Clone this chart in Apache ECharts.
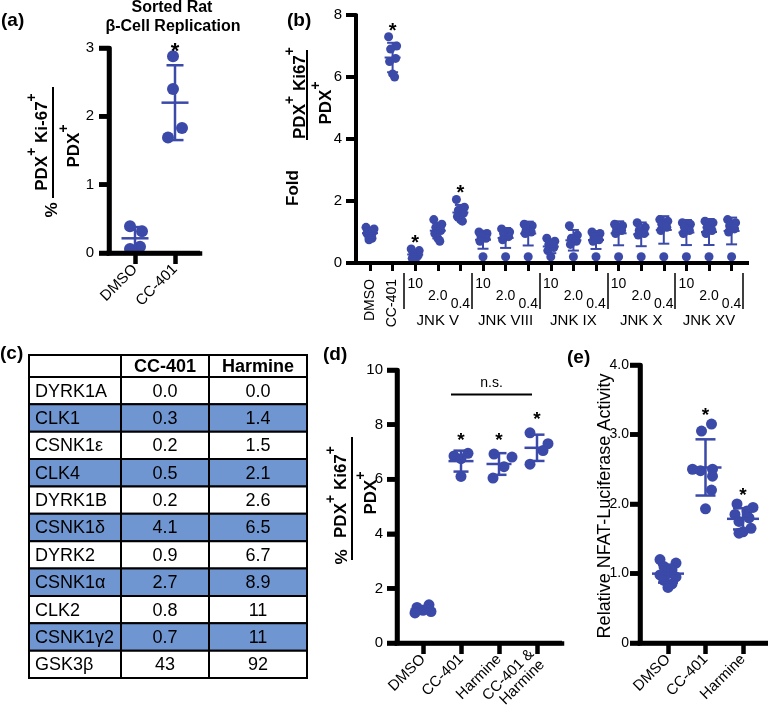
<!DOCTYPE html>
<html><head><meta charset="utf-8">
<script src="https://cdn.jsdelivr.net/npm/echarts@6.0.0/dist/echarts.min.js"></script>
<style>html,body{margin:0;padding:0;background:#fff}#c{width:768px;height:720px}</style>
</head><body><div id="c"></div>
<script>
// ================= DATA =================
// (a) Sorted rat beta-cell replication (% PDX+Ki-67+/PDX+)
const aCats = ['DMSO', 'CC-401'];
const aDMSO = [0.39, 0.32, 0.06, 0.09];
const aCC401 = [2.88, 2.40, 1.83, 1.69];

// (b) Fold PDX+Ki67+/PDX+
const bControls = ['DMSO', 'CC-401'];
const bInhibitors = ['JNK V', 'JNK VIII', 'JNK IX', 'JNK X', 'JNK XV'];
const bConcs = ['10', '2.0', '0.4'];
const bDMSO = [1.15, 1.1, 1.05, 1.0, 0.95, 0.9, 0.8, 0.75];
const bCC401 = [7.3, 7.0, 6.9, 6.6, 6.5, 6.1, 6.0];
const bJNKV = [[0.45, 0.4, 0.3, 0.25, 0.15, 0.1], [1.4, 1.25, 1.15, 1.05, 0.95, 0.8, 0.7], [2.05, 1.8, 1.7, 1.6, 1.5, 1.4, 1.35]];
const bJNKVIII = [[1.0, 0.95, 0.85, 0.8, 0.7, 0.2], [1.1, 1.0, 0.95, 0.85, 0.75, 0.2], [1.25, 1.2, 1.1, 1.0, 0.95, 0.2]];
const bJNKIX = [[0.8, 0.7, 0.6, 0.5, 0.4, 0.2], [1.2, 0.9, 0.8, 0.7, 0.6, 0.2], [1.0, 0.95, 0.85, 0.75, 0.7, 0.2]];
const bJNKX = [[1.25, 1.2, 1.1, 1.05, 0.95, 0.2], [1.3, 1.15, 1.05, 0.95, 0.9, 0.2], [1.4, 1.35, 1.25, 1.15, 1.05, 0.2]];
const bJNKXV = [[1.3, 1.25, 1.15, 1.05, 0.95, 0.2], [1.35, 1.3, 1.15, 1.05, 0.95, 0.2], [1.4, 1.3, 1.2, 1.1, 1.0, 0.2]];
const bStarred = ['CC-401', 'JNK V 10', 'JNK V 0.4'];

// (c) table
const tableHeader = ['', 'CC-401', 'Harmine'];
const kinases = ['DYRK1A', 'CLK1', 'CSNK1\u03b5', 'CLK4', 'DYRK1B', 'CSNK1\u03b4', 'DYRK2', 'CSNK1\u03b1', 'CLK2', 'CSNK1\u03b32', 'GSK3\u03b2'];
const cc401Vals = ['0.0', '0.3', '0.2', '0.5', '0.2', '4.1', '0.9', '2.7', '0.8', '0.7', '43'];
const harmineVals = ['0.0', '1.4', '1.5', '2.1', '2.6', '6.5', '6.7', '8.9', '11', '11', '92'];

// (d) % PDX+Ki67+/PDX+
const dCats = ['DMSO', 'CC-401', 'Harmine', 'CC-401 &\nHarmine'];
const dDMSO = [1.4, 1.3, 1.2, 1.1, 1.15];
const dCC401 = [6.95, 6.85, 6.75, 6.1];
const dHarmine = [6.92, 6.81, 6.46, 6.04];
const dCombo = [7.7, 7.3, 7.05, 6.55];

// (e) Relative NFAT-luciferase activity
const eCats = ['DMSO', 'CC-401', 'Harmine'];
const eDMSO = [1.2, 1.15, 1.1, 1.05, 1.0, 0.98, 0.95, 0.9, 0.85, 0.8];
const eCC401 = [3.15, 3.05, 2.5, 2.48, 2.5, 2.4, 2.2, 1.93];
const eHarmine = [2.0, 1.95, 1.9, 1.85, 1.8, 1.75, 1.65, 1.6, 1.58];

// ================= STYLE =================
const BLUE = '#3b49a8';
const TBLUE = '#7096d1';
const FONT = '"Liberation Sans", Arial, Helvetica, sans-serif';
// horizontal jitter of dots (px), style only
const aJit = [[-5, 7, -5, 5], [-2, -2, 7, -7]];
const bJitPattern = [-4, 4, -2, 3, -3, 0, 2, -1];
const dJit = [[6, -6, 0, -8, 8], [7, -7, 0, 0], [-5, 13, 5, -6], [-7, 11, 6, -7]];
const eJit = [[-8, 8, -4, 4, 0, -8, 8, -4, 4, 0], [6, -4, -13, -5, 7, 7, 6, 0], [-6, 10, 4, -8, 6, -4, 8, 0, -4]];
// table layout (relative column widths, relative header-row height)
const COL_W = [92, 88, 98];
const HEAD_H = 0.8;

// ================= HELPERS =================
const mean = a => a.reduce((s, v) => s + v, 0) / a.length;
const sd = a => { const m = mean(a); return Math.sqrt(a.reduce((s, v) => s + (v - m) * (v - m), 0) / (a.length - 1)); };

const grids = [], xAxes = [], yAxes = [], series = [];

function addPanel(cfg) {
  const W = cfg.axW || 4.5;
  const h = cfg.zeroY - cfg.top;
  const gH = grids.length;
  grids.push({ left: cfg.axisLeft, top: cfg.top, width: cfg.axisRight - cfg.axisLeft, height: h, outerBoundsMode: 'none' });
  const xH = xAxes.length;
  xAxes.push({ gridIndex: gH, type: 'value', min: 0, max: 1, position: 'bottom',
    axisLine: { show: true, onZero: false, lineStyle: { color: '#000', width: W, cap: 'square' } },
    axisTick: { show: false }, axisLabel: { show: false }, splitLine: { show: false } });
  const yH = yAxes.length;
  yAxes.push({ gridIndex: gH, type: 'value', min: cfg.yMin, max: cfg.yMax, interval: cfg.yInterval, position: 'left',
    axisLine: { show: true, onZero: false, lineStyle: { color: '#000', width: W } },
    axisTick: { show: true, inside: false, length: 10, lineStyle: { color: '#000', width: W } },
    axisLabel: { show: true, color: '#000', fontSize: cfg.yFont || 15, fontFamily: FONT, margin: cfg.yMargin, formatter: cfg.yFmt },
    splitLine: { show: false } });
  // same axis lines and y ticks, also drawn through the helper scales
  const yTicks = [];
  for (let v = cfg.yMin; v <= cfg.yMax + 1e-9; v += cfg.yInterval) yTicks.push(v);
  series.push({ type: 'custom', xAxisIndex: xH, yAxisIndex: yH, data: [[0, cfg.yMin]], encode: { x: 0, y: 1 }, clip: false, silent: true, z: 6,
    renderItem: (params, api) => {
      const o = api.coord([0, cfg.yMin]), t = api.coord([0, cfg.yMax]), r = api.coord([1, cfg.yMin]);
      const hw = W / 2;
      const ch = [
        { type: 'line', shape: { x1: o[0], y1: o[1] + hw, x2: t[0], y2: t[1] - 1 }, style: { stroke: '#000', lineWidth: W } },
        { type: 'line', shape: { x1: o[0] - hw, y1: o[1], x2: r[0], y2: r[1] }, style: { stroke: '#000', lineWidth: W } }
      ];
      yTicks.forEach(v => { const p = api.coord([0, v]); ch.push({ type: 'line', shape: { x1: p[0] - 10, y1: p[1], x2: p[0], y2: p[1] }, style: { stroke: '#000', lineWidth: W } }); });
      return { type: 'group', children: ch };
    } });
  const gD = grids.length;
  grids.push({ left: cfg.firstTick - cfg.step / 2, top: cfg.top, width: cfg.step * cfg.cats.length, height: h, outerBoundsMode: 'none' });
  const xD = xAxes.length;
  xAxes.push(Object.assign({ gridIndex: gD, type: 'category', position: 'bottom', data: cfg.cats,
    axisLine: { show: false },
    axisTick: { show: true, alignWithLabel: true, interval: 0, length: cfg.catTick || 11, lineStyle: { color: '#000', width: cfg.catTickW || W } },
    axisLabel: { interval: 0, rotate: 45, color: '#000', fontSize: 15, fontFamily: FONT, margin: 14 },
    splitLine: { show: false } }, cfg.xExtra || {}));
  const yD = yAxes.length;
  yAxes.push({ gridIndex: gD, type: 'value', min: cfg.yMin, max: cfg.yMax, show: false });
  return { gD, xD, yD };
}

function addGroups(p, groups, jit, opt) {
  const pts = [], bars = [];
  groups.forEach((g, i) => {
    g.forEach((v, k) => pts.push({ value: [i, v], symbolOffset: [jit(i, k), 0] }));
    bars.push([i, mean(g), sd(g)]);
  });
  series.push({ type: 'scatter', xAxisIndex: p.xD, yAxisIndex: p.yD, data: pts, symbol: 'circle', symbolSize: opt.dot,
    itemStyle: { color: BLUE, opacity: 1 }, z: 3, silent: true });
  series.push({ type: 'custom', xAxisIndex: p.xD, yAxisIndex: p.yD, data: bars, z: 4, silent: true, clip: false,
    encode: { x: 0, y: 1 },
    renderItem: (params, api) => {
      const i = api.value(0), m = api.value(1), s = api.value(2);
      const pm = api.coord([i, m]), pt = api.coord([i, m + s]), pb = api.coord([i, m - s]);
      const x = pm[0];
      const st = () => ({ stroke: BLUE, lineWidth: opt.lw });
      return { type: 'group', children: [
        { type: 'line', shape: { x1: x, y1: pt[1], x2: x, y2: pb[1] }, style: st() },
        { type: 'line', shape: { x1: x - opt.meanW / 2, y1: pm[1], x2: x + opt.meanW / 2, y2: pm[1] }, style: st() },
        { type: 'line', shape: { x1: x - opt.capW / 2, y1: pt[1], x2: x + opt.capW / 2, y2: pt[1] }, style: st() },
        { type: 'line', shape: { x1: x - opt.capW / 2, y1: pb[1], x2: x + opt.capW / 2, y2: pb[1] }, style: st() }
      ] };
    } });
}

function addStars(p, groups, flags, opt) {
  const data = [];
  groups.forEach((g, i) => { if (flags[i]) data.push([i, Math.max(...g)]); });
  series.push({ type: 'custom', xAxisIndex: p.xD, yAxisIndex: p.yD, data, z: 5, silent: true, clip: false, encode: { x: 0, y: 1 },
    renderItem: (params, api) => {
      const c = api.coord([api.value(0), api.value(1)]);
      return { type: 'text', x: c[0], y: c[1] - opt.gap + 0.22 * opt.fs,
        style: { text: '*', fontSize: opt.fs, fontWeight: 'bold', fontFamily: FONT, align: 'center', verticalAlign: 'middle', fill: '#000' } };
    } });
}

// ================= PANEL (a) =================
const pa = addPanel({ axisLeft: 109, axisRight: 200, top: 48, zeroY: 253, firstTick: 135, step: 40, cats: aCats,
  yMin: 0, yMax: 3, yInterval: 1, yMargin: 15 });
const aGroups = [aDMSO, aCC401];
addGroups(pa, aGroups, (i, k) => aJit[i][k], { dot: 12, lw: 2.5, meanW: 27, capW: 17 });
addStars(pa, aGroups, [false, true], { gap: 9, fs: 22 });

// ================= PANEL (b) =================
const bCats = bControls.concat(...bInhibitors.map(n => bConcs.map(c => n + ' ' + c)));
const bGroups = [bDMSO, bCC401].concat(bJNKV, bJNKVIII, bJNKIX, bJNKX, bJNKXV);
const pb = addPanel({ axisLeft: 356, axisRight: 747, top: 15, zeroY: 263, firstTick: 370, step: 22.6, cats: bCats,
  yMin: 0, yMax: 8, yInterval: 2, yMargin: 14, catTick: 8, catTickW: 3, axW: 4,
  xExtra: { axisLabel: { interval: 0, rotate: 90, color: '#000', fontSize: 14, fontFamily: FONT, margin: 16,
      formatter: (v, i) => (i < bControls.length ? v : '') } } });
// separators + concentration labels
xAxes.push({ gridIndex: pb.gD, type: 'category', position: 'bottom', offset: 10, data: bCats,
  axisLine: { show: false },
  axisTick: { show: true, alignWithLabel: false, length: 36, lineStyle: { color: '#000', width: 1.5 },
    interval: (i) => i >= bControls.length && (i - bControls.length) % bConcs.length === 0 },
  axisLabel: { interval: 0, color: '#000', fontFamily: FONT, margin: 4,
    formatter: (v, i) => { if (i < bControls.length) return ''; const k = (i - bControls.length) % bConcs.length; return '{c' + k + '|' + bConcs[k] + '}'; },
    rich: { c0: { fontSize: 14, fontFamily: FONT, padding: [0, 0, 0, 0] },
            c1: { fontSize: 14, fontFamily: FONT, padding: [12, 0, 0, 0] },
            c2: { fontSize: 14, fontFamily: FONT, padding: [20, 0, 0, 0] } } },
  splitLine: { show: false } });
// inhibitor names
xAxes.push({ gridIndex: pb.gD, type: 'category', position: 'bottom', offset: 0, data: bCats,
  axisLine: { show: false }, axisTick: { show: false },
  axisLabel: { interval: 0, color: '#000', fontSize: 15, fontFamily: FONT, margin: 50,
    formatter: (v, i) => { if (i < bControls.length) return ''; const k = (i - bControls.length) % bConcs.length; return k === 1 ? bInhibitors[Math.floor((i - bControls.length) / bConcs.length)] : ''; } },
  splitLine: { show: false } });
addGroups(pb, bGroups, (i, k) => bJitPattern[k % bJitPattern.length], { dot: 9, lw: 2, meanW: 16, capW: 11 });
addStars(pb, bGroups, bCats.map(c => bStarred.includes(c)), { gap: 10, fs: 20 });

// ================= PANEL (c) table =================
const tableRows = [tableHeader].concat(kinases.map((k, i) => [k, cc401Vals[i], harmineVals[i]]));
const colEdges = [0]; COL_W.forEach(w => colEdges.push(colEdges[colEdges.length - 1] + w));
const rowTop = r => (r === 0 ? 0 : HEAD_H + r - 1);
const rowBot = r => (r === 0 ? HEAD_H : HEAD_H + r);
const gT = grids.length;
grids.push({ left: 29, top: 355, width: 278, height: 323, outerBoundsMode: 'none' });
const xT = xAxes.length;
xAxes.push({ gridIndex: gT, type: 'value', min: 0, max: colEdges[colEdges.length - 1], show: false });
const yT = yAxes.length;
yAxes.push({ gridIndex: gT, type: 'value', inverse: true, min: 0, max: rowBot(tableRows.length - 1), show: false });
const cells = [];
tableRows.forEach((r, ri) => r.forEach((t, ci) => cells.push([colEdges[ci], rowTop(ri), colEdges[ci + 1], rowBot(ri), ci, ri, t])));
series.push({ type: 'custom', xAxisIndex: xT, yAxisIndex: yT, data: cells, silent: true, clip: false, encode: { x: [0, 2], y: [1, 3] },
  renderItem: (params, api) => {
    const ci = api.value(4), ri = api.value(5);
    const txt = cells[params.dataIndex][6];
    const p0 = api.coord([api.value(0), api.value(1)]);
    const p1 = api.coord([api.value(2), api.value(3)]);
    const x0 = p0[0], y0 = p0[1], w = p1[0] - p0[0], hgt = p1[1] - p0[1];
    const fill = (ri >= 2 && ri % 2 === 0) ? TBLUE : '#fff';
    const header = ri === 0;
    return { type: 'group', children: [
      { type: 'rect', shape: { x: x0, y: y0, width: w, height: hgt }, style: { fill, stroke: '#000', lineWidth: 2 } },
      { type: 'text', x: ci === 0 ? x0 + 6 : x0 + w / 2, y: y0 + hgt / 2 + 1,
        style: { text: txt, fontSize: 18, fontWeight: header ? 'bold' : 'normal', fontFamily: FONT,
          align: ci === 0 ? 'left' : 'center', verticalAlign: 'middle', fill: '#000' } }
    ] };
  } });

// ================= PANEL (d) =================
const pd = addPanel({ axisLeft: 397, axisRight: 562, top: 370, zeroY: 643, firstTick: 423, step: 38, cats: dCats,
  yMin: 0, yMax: 10, yInterval: 2, yMargin: 14 });
const dGroups = [dDMSO, dCC401, dHarmine, dCombo];
addGroups(pd, dGroups, (i, k) => dJit[i][k], { dot: 11, lw: 2.5, meanW: 25, capW: 15 });
addStars(pd, dGroups, [false, true, true, true], { gap: 17, fs: 19 });
series.push({ type: 'custom', xAxisIndex: pd.xD, yAxisIndex: pd.yD, data: [[1, 3, 9.1]], silent: true, clip: false, encode: { x: 0, y: 2 },
  renderItem: (params, api) => {
    const p1 = api.coord([api.value(0), api.value(2)]), p2 = api.coord([api.value(1), api.value(2)]);
    const xa = p1[0] - 10, xb = p2[0] - 5;
    return { type: 'group', children: [
      { type: 'line', shape: { x1: xa, y1: p1[1], x2: xb, y2: p1[1] }, style: { stroke: '#000', lineWidth: 2 } },
      { type: 'text', x: (xa + xb) / 2, y: p1[1] - 11, style: { text: 'n.s.', fontSize: 14, fontFamily: FONT, align: 'center', verticalAlign: 'middle', fill: '#000' } }
    ] };
  } });

// ================= PANEL (e) =================
const pe = addPanel({ axisLeft: 640, axisRight: 768, top: 365, zeroY: 643, firstTick: 668, step: 37.5, cats: eCats,
  yMin: 0, yMax: 4, yInterval: 1, yMargin: 11, yFont: 14, yFmt: v => (v === 0 ? '0' : v.toFixed(1)) });
const eGroups = [eDMSO, eCC401, eHarmine];
addGroups(pe, eGroups, (i, k) => eJit[i][k], { dot: 11, lw: 2.5, meanW: 32, capW: 20 });
addStars(pe, eGroups, [false, true, true], { gap: 12, fs: 19 });

// ================= TEXT GRAPHICS =================
const R90 = Math.PI / 2;
const rich = {
  m: { fontSize: 17, fontWeight: 'bold', fontFamily: FONT, lineHeight: 26, verticalAlign: 'bottom', fill: '#000' },
  s: { fontSize: 14, fontWeight: 'bold', fontFamily: FONT, lineHeight: 14, verticalAlign: 'top', fill: '#000' }
};
function rtext(x, y, text) {
  return { type: 'text', x, y, rotation: R90, style: { text, rich, align: 'center', verticalAlign: 'middle', fill: '#000' } };
}
function plain(x, y, text, size, bold, align, rot) {
  return { type: 'text', x, y, rotation: rot || 0, style: { text, fontSize: size, fontWeight: bold ? 'bold' : 'normal', fontFamily: FONT, align: align || 'left', verticalAlign: 'middle', fill: '#000' } };
}
function vline(x, y1, y2) {
  return { type: 'line', shape: { x1: x, y1, x2: x, y2 }, style: { stroke: '#000', lineWidth: 2 } };
}
const NUM1 = '{m|PDX}{s|+}{m| Ki-67}{s|+}';
const NUM2 = '{m|PDX}{s|+}{m| Ki67}{s|+}';
const DEN = '{m|PDX}{s|+}';
const graphics = [
  plain(1, 21, '(a)', 19, true),
  plain(172, 8, 'Sorted Rat', 16, true, 'center'),
  plain(173, 27, '\u03b2-Cell Replication', 16, true, 'center'),
  rtext(38, 142, NUM1), vline(53, 87, 198), rtext(70, 146, DEN), plain(52, 210, '%', 17, true, 'center', R90),
  plain(287, 21, '(b)', 19, true),
  rtext(296, 93, NUM2), vline(307, 50, 140), rtext(322, 103, DEN), plain(293, 188, 'Fold', 17, true, 'center', R90),
  plain(0, 354, '(c)', 19, true),
  plain(323, 355, '(d)', 19, true),
  rtext(337, 492, NUM2), vline(352, 437, 560), rtext(367, 493, DEN), plain(342, 557, '%', 17, true, 'center', R90),
  plain(567, 358, '(e)', 19, true),
  plain(605, 506, 'Relative NFAT-Luciferase Activity', 18, false, 'center', R90)
];

const chart = echarts.init(document.getElementById('c'), null, { renderer: 'canvas' });
chart.setOption({
  animation: false,
  backgroundColor: '#fff',
  textStyle: { fontFamily: FONT },
  grid: grids, xAxis: xAxes, yAxis: yAxes, series,
  graphic: graphics
});
</script></body></html>
